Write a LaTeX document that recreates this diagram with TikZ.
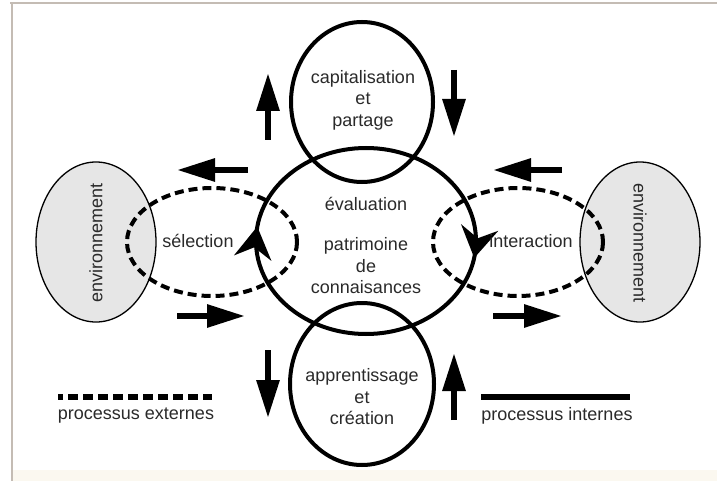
\documentclass[tikz,border=0pt]{standalone}
\usepackage{fontspec}
\setmainfont{Liberation Sans}
\usetikzlibrary{arrows.meta,decorations.markings}
\definecolor{envgray}{HTML}{E6E6E6}
\definecolor{txtgray}{HTML}{2A2A2A}
\definecolor{framecol}{HTML}{C4BCB4}
\definecolor{bandcol}{HTML}{FBF8F0}
\begin{document}
\begin{tikzpicture}[x=1pt,y=-1pt,
  thickline/.style={line width=4pt},
  dashline/.style={line width=4pt, dash pattern=on 9pt off 5pt},
  envshape/.style={fill=envgray, draw=black, line width=1.3pt},
  bigarrow/.style={line width=6pt, -{Triangle[length=38pt,width=22pt]}},
  headshape/.style={fill=black, draw=none},
  lbl/.style={font=\fontsize{18}{21.5}\selectfont, text=txtgray, align=center, inner sep=0pt},
  ]
\useasboundingbox (0,0) rectangle (717,481);
\fill[white] (0,0) rectangle (717,481);
\fill[bandcol] (12,470) rectangle (717,481);
\draw[framecol, line width=2pt] (10,3) -- (717,3);
\draw[framecol, line width=2pt] (12,3) -- (12,481);

% environment ellipses
\draw[envshape] (96,242) ellipse [x radius=60, y radius=80];
\draw[envshape] (640,242) ellipse [x radius=60, y radius=80];

% dashed (external) loops
\draw[dashline] (212,242) ellipse [x radius=85, y radius=54];
\draw[dashline] (518,242) ellipse [x radius=85, y radius=54];

% internal loops
\draw[thickline] (362,102) ellipse [x radius=71, y radius=80];
\draw[thickline] (362,384) ellipse [x radius=72, y radius=81];
\draw[thickline, postaction={decorate}, decoration={markings,
    mark=at position 0.022 with {\fill[headshape] (3pt,0pt) -- (-28pt,-19pt) -- (-17pt,0pt) -- (-28pt,19pt) -- cycle;},
    mark=at position 0.518 with {\fill[headshape] (3pt,0pt) -- (-29pt,-19pt) -- (-18pt,0pt) -- (-29pt,19pt) -- cycle;}}]
  (366,241) ellipse [x radius=110, y radius=93];

% straight arrows
\coordinate (tlA) at (268,140); \coordinate (tlB) at (268,73);
\coordinate (trA) at (454,70);  \coordinate (trB) at (454,137);
\coordinate (luA) at (248,170); \coordinate (luB) at (177,170);
\coordinate (llA) at (177,316); \coordinate (llB) at (245,316);
\coordinate (ruA) at (562,170); \coordinate (ruB) at (493,170);
\coordinate (rlA) at (493,316); \coordinate (rlB) at (562,316);
\coordinate (blA) at (268,350); \coordinate (blB) at (268,418);
\coordinate (brA) at (454,420); \coordinate (brB) at (454,353);
\draw[bigarrow] (tlA) -- (tlB);
\draw[bigarrow] (trA) -- (trB);
\draw[bigarrow] (luA) -- (luB);
\draw[bigarrow] (llA) -- (llB);
\draw[bigarrow] (ruA) -- (ruB);
\draw[bigarrow] (rlA) -- (rlB);
\draw[bigarrow] (blA) -- (blB);
\draw[bigarrow] (brA) -- (brB);

% legend
\coordinate (ldA) at (58,397); \coordinate (ldB) at (212,397);
\coordinate (lsA) at (481,397); \coordinate (lsB) at (630,397);
\draw[line width=5.5pt, dash pattern=on 10pt off 5pt, dash phase=5pt] (ldA) -- (ldB);
\draw[line width=5.5pt] (lsA) -- (lsB);

% texts
\node[lbl] (cap) at (363,100) {capitalisation\\et\\partage};
\node[lbl] (eval) at (366,204) {évaluation};
\node[lbl] (pat) at (366,266) {patrimoine\\de\\connaisances};
\node[lbl] (app) at (362,397) {apprentissage\\et\\création};
\node[lbl] (sel) at (198,241) {sélection};
\node[lbl] (int) at (531,241) {interaction};
\node[lbl, rotate=90] (envL) at (96,243) {environnement};
\node[lbl, rotate=-90] (envR) at (640,243) {environnement};
\node[lbl] (ext) at (136,416) {processus externes};
\node[lbl] (intl) at (557,416) {processus internes};
\end{tikzpicture}
\end{document}
